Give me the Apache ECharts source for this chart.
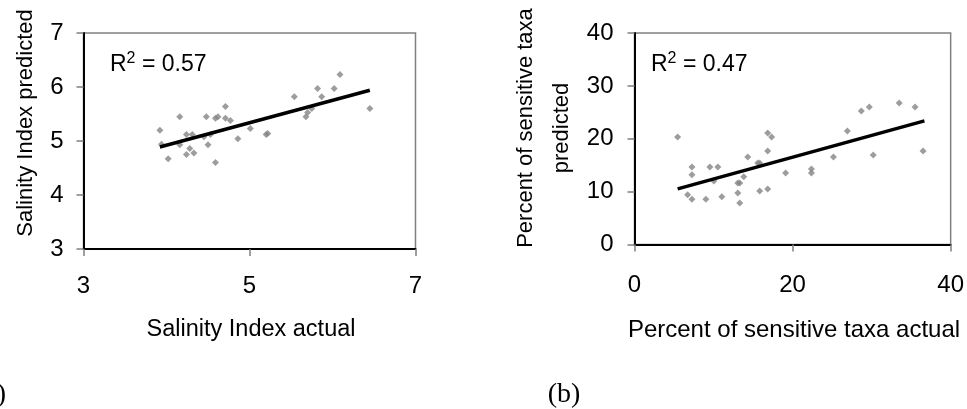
<!DOCTYPE html>
<html>
<head>
<meta charset="utf-8">
<script src="https://cdn.jsdelivr.net/npm/echarts@6/dist/echarts.min.js"></script>
<style>
  html, body { margin: 0; padding: 0; background: #fff; }
  #chart { width: 967px; height: 409px; }
</style>
</head>
<body>
<div id="chart"></div>
<script>
// (a) salinity index
const salinityActual = [3.92, 3.94, 4.02, 4.16, 4.16, 4.24, 4.24, 4.28, 4.31, 4.33, 4.45, 4.48, 4.50, 4.53, 4.59, 4.59, 4.62,
  4.71, 4.71, 4.77, 4.86, 5.01, 5.20, 5.22, 5.54, 5.68, 5.70, 5.75, 5.82, 5.87, 6.02, 6.09, 6.45];
const salinityPredicted = [5.20, 4.94, 4.67, 5.45, 4.93, 5.12, 4.75, 4.86, 5.12, 4.78, 5.08, 5.45, 4.93, 5.12, 4.60, 5.42, 5.45,
  5.64, 5.42, 5.38, 5.04, 5.23, 5.12, 5.14, 5.82, 5.45, 5.53, 5.60, 5.97, 5.82, 5.97, 6.23, 5.60];
const salinityTrendX = [3.92, 6.45];
const salinityTrendY = [4.89, 5.94];

// (b) percent of sensitive taxa
const taxaActual = [5.46, 6.72, 7.27, 7.27, 7.27, 9.03, 9.54, 10.04, 10.55, 11.05, 13.07, 13.07, 13.32, 13.32, 13.82, 14.33,
  15.59, 15.84, 15.84, 16.85, 16.85, 16.85, 17.35, 19.12, 22.39, 22.39, 25.17, 26.93, 28.70, 29.71, 30.21, 33.49, 35.50, 36.51];
const taxaPredicted = [20.35, 9.39, 14.68, 13.17, 8.57, 8.57, 14.68, 12.03, 14.68, 9.01, 9.76, 11.65, 11.65, 7.87, 12.79, 16.57,
  15.43, 15.43, 10.14, 10.52, 17.70, 21.10, 20.35, 13.54, 14.30, 13.54, 16.57, 21.48, 25.26, 26.02, 16.94, 26.77, 26.02, 17.70];
const taxaTrendX = [5.46, 36.68];
const taxaTrendY = [10.52, 23.37];

const salinityTicks = { x: [3, 7, 2], y: [3, 7, 1] };
const taxaTicks = { x: [0, 40, 20], y: [0, 40, 10] };

const FONT = '"Liberation Sans", Arial, sans-serif';
const zip = (xs, ys) => xs.map((x, i) => [x, ys[i]]);

function axis(ticks, gridIndex, margin) {
  return {
    gridIndex: gridIndex,
    type: 'value',
    min: ticks[0],
    max: ticks[1],
    interval: ticks[2],
    splitLine: { show: false },
    axisLine: { show: true, onZero: false, lineStyle: { color: '#000', width: 2 } },
    axisTick: { show: true, length: 7, lineStyle: { color: '#808080', width: 1.5 } },
    axisLabel: { color: '#000', fontSize: 24, fontFamily: FONT, margin: margin },
  };
}

const chart = echarts.init(document.getElementById('chart'));
const gridStyle = { show: true, borderColor: '#808080', borderWidth: 1.5, backgroundColor: '#fff' };

const option = {
  animation: false,
  grid: [
    Object.assign({ left: 83.5, top: 33, width: 332, height: 216 }, gridStyle),
    Object.assign({ left: 634.5, top: 33, width: 317, height: 211.5 }, gridStyle),
  ],
  xAxis: [axis(salinityTicks.x, 0, 25), axis(taxaTicks.x, 1, 29)],
  yAxis: [axis(salinityTicks.y, 0, 20), axis(taxaTicks.y, 1, 21)],
  series: [
    {
      type: 'scatter', xAxisIndex: 0, yAxisIndex: 0,
      symbol: 'diamond', symbolSize: 7,
      itemStyle: { color: '#858585' },
      data: zip(salinityActual, salinityPredicted),
    },
    {
      type: 'line', xAxisIndex: 0, yAxisIndex: 0,
      symbol: 'none', lineStyle: { color: '#000', width: 3.5 },
      data: zip(salinityTrendX, salinityTrendY),
    },
    {
      type: 'scatter', xAxisIndex: 1, yAxisIndex: 1,
      symbol: 'diamond', symbolSize: 7,
      itemStyle: { color: '#858585' },
      data: zip(taxaActual, taxaPredicted),
    },
    {
      type: 'line', xAxisIndex: 1, yAxisIndex: 1,
      symbol: 'none', lineStyle: { color: '#000', width: 3.5 },
      data: zip(taxaTrendX, taxaTrendY),
    },
  ],
  graphic: [
    // axis titles
    { type: 'text', x: 251, y: 330, style: { text: 'Salinity Index actual', font: '23.5px ' + FONT, fill: '#000', align: 'center', verticalAlign: 'middle' } },
    { type: 'text', x: 26, y: 123, rotation: Math.PI / 2, style: { text: 'Salinity Index predicted', font: '22px ' + FONT, fill: '#000', align: 'center', verticalAlign: 'middle' } },
    { type: 'text', x: 794, y: 330, style: { text: 'Percent of sensitive taxa actual', font: '24px ' + FONT, fill: '#000', align: 'center', verticalAlign: 'middle' } },
    { type: 'text', x: 544, y: 128, rotation: Math.PI / 2, style: { text: 'Percent of sensitive taxa\npredicted', font: '22px ' + FONT, fill: '#000', align: 'center', verticalAlign: 'middle', lineHeight: 36 } },
    // R squared
    { type: 'text', x: 110, y: 65, style: { text: '{r|R}{s|2}{r| = 0.57}', fill: '#000', verticalAlign: 'middle',
      rich: { r: { font: '23px ' + FONT }, s: { font: '16px ' + FONT, verticalAlign: 'top', padding: [0, 0, 12, 0] } } } },
    { type: 'text', x: 651, y: 65, style: { text: '{r|R}{s|2}{r| = 0.47}', fill: '#000', verticalAlign: 'middle',
      rich: { r: { font: '23px ' + FONT }, s: { font: '16px ' + FONT, verticalAlign: 'top', padding: [0, 0, 12, 0] } } } },
    // panel labels
    { type: 'text', x: 6, y: 395, style: { text: '(a)', font: '28px "Liberation Serif", serif', fill: '#000', align: 'right', verticalAlign: 'middle' } },
    { type: 'text', x: 564, y: 395, style: { text: '(b)', font: '28px "Liberation Serif", serif', fill: '#000', align: 'center', verticalAlign: 'middle' } },
  ],
};

chart.setOption(option);
</script>
</body>
</html>
